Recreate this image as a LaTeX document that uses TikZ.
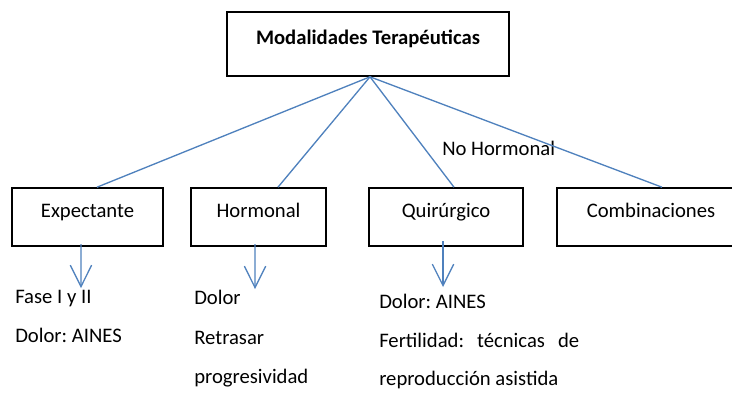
\documentclass[tikz,border=0pt]{standalone}
\usepackage{fontspec}
\setmainfont{Carlito}
\usepackage{xcolor}
\usetikzlibrary{arrows.meta,positioning}
\definecolor{lineblue}{RGB}{79,129,189}
\tikzset{
  box/.style={draw,line width=1.2pt,inner sep=0pt,text height=12pt,text depth=12pt},
  link/.style={lineblue,line width=1pt},
  down/.style={lineblue,line width=1pt,-{Straight Barb[length=16pt,width=16pt]}},
  item/.style={anchor=base west,inner sep=0pt}
}
\begin{document}
\frenchspacing
\fontsize{15.5}{18}\selectfont
\begin{tikzpicture}[x=0.75pt,y=-0.75pt]
    \useasboundingbox (0,0) rectangle (732,394);
    % boxes
    \node[box,minimum width=211.5pt,minimum height=48pt,font=\bfseries] (top) at (368,44) {Modalidades Terapéuticas};
    \node[box,minimum width=113.25pt,minimum height=43.5pt] (exp) at (87.5,217) {Expectante};
    \node[box,minimum width=101.25pt,minimum height=43.5pt] (horm) at (258.5,217) {Hormonal};
    \node[box,minimum width=115.5pt,minimum height=43.5pt] (quir) at (446,217) {Quirúrgico};
    \node[box,minimum width=141pt,minimum height=43.5pt] (comb) at (651,217) {Combinaciones};
    \node[anchor=west,inner sep=0pt] (nohorm) at (442,148) {No Hormonal};
    % branches
    \draw[link] ([xshift=1.5pt]top.south) -- ([xshift=7.1pt]exp.north);
    \draw[link] ([xshift=1.5pt]top.south) -- ([xshift=14.6pt]horm.north);
    \draw[link] ([xshift=1.5pt]top.south) -- ([xshift=6pt]quir.north);
    \draw[link] ([xshift=1.5pt]top.south) -- ([xshift=8.25pt]comb.north);
    % arrows down
    \coordinate (expEnd) at (81,288);
    \coordinate (hormEnd) at (255,289);
    \coordinate (quirEnd) at (443,287);
    \draw[down] ([xshift=-4.9pt,yshift=2pt]exp.south) -- (expEnd);
    \draw[down] ([xshift=-2.6pt,yshift=2pt]horm.south) -- (hormEnd);
    \draw[down] ([xshift=-2.25pt,yshift=4pt]quir.south) -- (quirEnd);
    % texts
    \node[item] (exp1) at (15,303) {Fase I y II};
    \node[item] (exp2) at (15,342) {Dolor: AINES};
    \node[item] (horm1) at (194,304) {Dolor};
    \node[item] (horm2) at (194,344) {Retrasar};
    \node[item] (horm3) at (194,383) {progresividad};
    \node[item] (quir1) at (379,308) {Dolor: AINES};
    \node[item] (quir2) at (379,347) {\makebox[150pt][s]{Fertilidad: técnicas de}};
    \node[item] (quir3) at (379,385) {reproducción asistida};
\end{tikzpicture}
\end{document}
